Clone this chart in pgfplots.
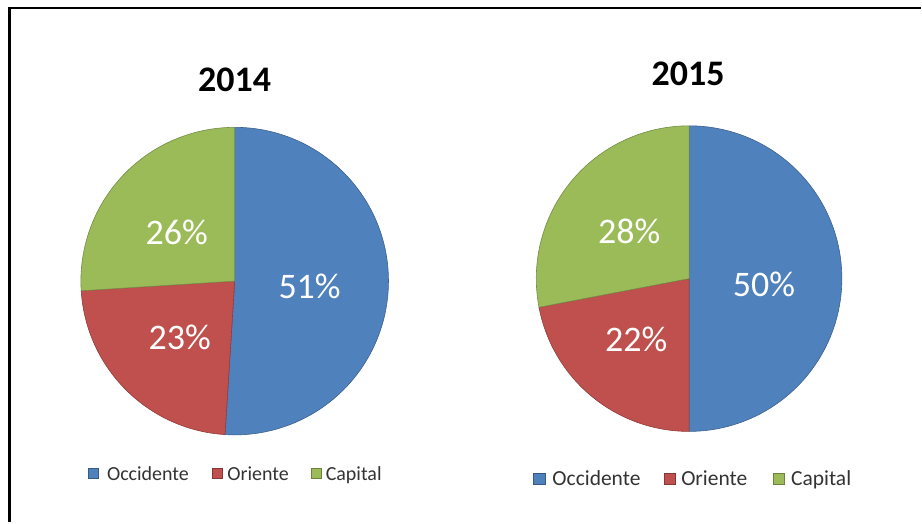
\documentclass[border=0pt]{standalone}
\usepackage{pgfplots}
\pgfplotsset{compat=1.18}
\usepackage{fontspec}
\setmainfont{Carlito}
\definecolor{cOcc}{RGB}{79,129,189}
\definecolor{cOri}{RGB}{192,80,77}
\definecolor{cCap}{RGB}{155,187,89}
\begin{document}
\begin{tikzpicture}
\begin{axis}[x=1pt,y=1pt,xmin=0,xmax=922,ymin=0,ymax=523,
  scale only axis,hide axis,clip=false]
\path (axis cs:0,0) rectangle (axis cs:922,523);
\draw[line width=2.5pt] (axis cs:9.5,0) -- (axis cs:9.5,515) -- (axis cs:922,515);
% ---- 2014: Occidente 51, Oriente 23, Capital 26
\fill[cOcc,draw=cOcc!75!black,line width=0.6pt] (axis cs:235,241.5) -- ++(90:154pt)
  arc[start angle=90, end angle={90-3.6*51}, radius=154pt] -- cycle;
\fill[cOri,draw=cOri!75!black,line width=0.6pt] (axis cs:235,241.5) -- ++({90-3.6*51}:154pt)
  arc[start angle={90-3.6*51}, end angle={90-3.6*(51+23)}, radius=154pt] -- cycle;
\fill[cCap,draw=cCap!75!black,line width=0.6pt] (axis cs:235,241.5) -- ++({90-3.6*(51+23)}:154pt)
  arc[start angle={90-3.6*(51+23)}, end angle={90-3.6*(51+23+26)}, radius=154pt] -- cycle;
% ---- 2015: Occidente 50, Oriente 22, Capital 28
\fill[cOcc,draw=cOcc!75!black,line width=0.6pt] (axis cs:690,244) -- ++(90:153pt)
  arc[start angle=90, end angle={90-3.6*50}, radius=153pt] -- cycle;
\fill[cOri,draw=cOri!75!black,line width=0.6pt] (axis cs:690,244) -- ++({90-3.6*50}:153pt)
  arc[start angle={90-3.6*50}, end angle={90-3.6*(50+22)}, radius=153pt] -- cycle;
\fill[cCap,draw=cCap!75!black,line width=0.6pt] (axis cs:690,244) -- ++({90-3.6*(50+22)}:153pt)
  arc[start angle={90-3.6*(50+22)}, end angle={90-3.6*(50+22+28)}, radius=153pt] -- cycle;
% titles
\node[font=\fontsize{36}{40}\selectfont\bfseries] at (axis cs:235,443) {2014};
\node[font=\fontsize{36}{40}\selectfont\bfseries] at (axis cs:689,449.5) {2015};
% labels
\begin{scope}[every node/.style={text=white,font=\fontsize{36}{40}\selectfont}]
\node at (axis cs:310,236) {51\%};
\node at (axis cs:180,185) {23\%};
\node at (axis cs:177,290) {26\%};
\node at (axis cs:765,238) {50\%};
\node at (axis cs:637,183) {22\%};
\node at (axis cs:630,291) {28\%};
\end{scope}
% legend 2014
\begin{scope}[every node/.style={anchor=base west,inner sep=0pt,font=\fontsize{20}{24}\selectfont,text=black!80}]
\fill[cOcc,draw=cOcc!70!black,line width=0.5pt] (axis cs:88.5,44.5) rectangle (axis cs:98.5,54.5);
\node at (axis cs:107,42) {Occidente};
\fill[cOri,draw=cOri!70!black,line width=0.5pt] (axis cs:212.5,44.5) rectangle (axis cs:222.5,54.5);
\node at (axis cs:227.5,42) {Oriente};
\fill[cCap,draw=cCap!70!black,line width=0.5pt] (axis cs:311.5,44.5) rectangle (axis cs:321.5,54.5);
\node at (axis cs:326,42) {Capital};
\end{scope}
% legend 2015
\begin{scope}[every node/.style={anchor=base west,inner sep=0pt,font=\fontsize{21.5}{26}\selectfont,text=black!80}]
\fill[cOcc,draw=cOcc!70!black,line width=0.5pt] (axis cs:534,38) rectangle (axis cs:545.5,49);
\node at (axis cs:553,37) {Occidente};
\fill[cOri,draw=cOri!70!black,line width=0.5pt] (axis cs:665,38) rectangle (axis cs:676.5,49);
\node at (axis cs:682,37) {Oriente};
\fill[cCap,draw=cCap!70!black,line width=0.5pt] (axis cs:774,38) rectangle (axis cs:785.5,49);
\node at (axis cs:792,37) {Capital};
\end{scope}
\end{axis}
\end{tikzpicture}
\end{document}
